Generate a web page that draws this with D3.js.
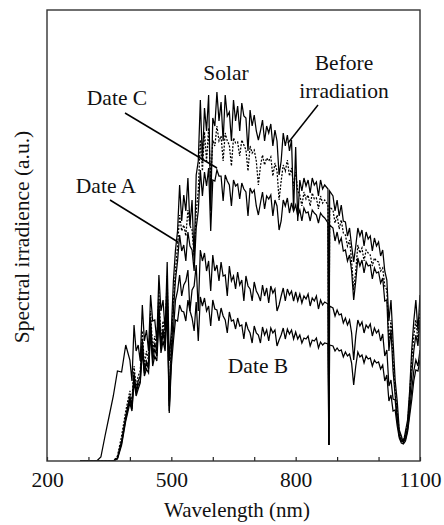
<!DOCTYPE html>
<html>
<head>
<meta charset="utf-8">
<script src="https://cdn.jsdelivr.net/npm/d3@7"></script>
<style>
  body { margin: 0; background: #fff; }
  text { font-family: "Liberation Serif", "Times New Roman", serif; fill: #111; }
</style>
</head>
<body>
<svg id="chart" width="444" height="525"></svg>
<script>
// wavelength grid (nm)
let wavelengths = [280,290,300,310,320,330,340,350,360,370,380,390,400,410,420,430,440,450,460,470,
  480,490,500,510,520,530,540,550,560,570,580,590,600,610,620,630,640,650,660,670,
  680,690,700,710,720,730,740,750,760,770,780,790,800,810,820,830,840,850,860,870,
  878,880,882,890,900,910,920,930,940,950,960,970,980,990,1000,1010,1020,1030,1040,1050,
  1060,1070,1080,1090,1100];

// spectral irradiance (a.u.)
let solar = [0,0,0,0,0,4,25,45,65,90,
  89,116,101,136,116,156,131,166,141,186,
  161,199,131,211,276,266,283,261,286,361,
  353,366,343,369,359,366,349,361,355,358,
  343,351,346,321,341,335,337,331,286,328,
  326,321,314,281,283,281,283,279,281,276,
  272,16,270,
  265,261,256,239,233,199,233,231,229,225,
  223,219,211,181,161,81,31,18,41,111,
  161,166];

let beforeIrr = [0,0,0,0,0,0,0,0,0,5,
  25,50,70,95,85,130,110,150,125,170,
  140,185,120,191,246,236,251,231,249,321,
  329,333,321,335,325,328,316,323,319,321,
  311,315,311,276,306,303,304,298,261,296,
  301,293,289,266,269,266,268,263,265,261,
  256,16,254,
  251,246,241,226,221,171,216,213,211,206,
  203,199,193,171,141,71,29,21,36,101,
  141,151];

let dateC = [0,0,0,0,0,0,0,0,0,3,
  20,45,65,88,80,122,100,142,118,160,
  132,175,110,181,226,216,229,211,233,291,
  289,293,281,291,285,286,276,281,277,278,
  269,273,271,246,269,265,266,261,231,261,
  263,258,256,251,253,249,251,246,248,243,
  238,16,236,
  233,229,223,211,206,161,203,201,199,196,
  193,189,183,161,131,66,25,20,33,86,
  126,141];

let dateA = [0,0,0,0,0,0,0,0,0,3,
  18,42,62,85,76,118,98,135,112,150,
  128,165,105,161,186,176,191,171,196,211,
  208,200,206,196,199,186,195,185,189,181,
  185,172,179,166,176,173,175,172,156,173,
  172,170,169,167,165,167,163,165,161,159,
  157,16,155,
  153,151,147,143,141,101,141,139,136,137,
  133,131,127,111,81,61,26,19,31,71,
  101,111];

let dateB = [0,0,0,0,0,0,0,0,0,2,
  16,40,58,80,72,110,92,128,105,140,
  120,150,95,141,156,149,161,143,159,164,
  163,155,161,151,153,141,149,141,143,136,
  139,128,135,126,134,131,133,131,121,133,
  132,131,129,126,123,125,121,123,119,118,
  117,16,116,
  115,113,111,109,107,76,109,106,105,103,
  101,99,96,86,66,51,23,17,29,61,
  91,101];

// extra in-between readings where the spectra are full of absorption spikes
let fineWavelengths = [405,415,425,435,445,455,465,475,485,495,
  505,515,525,535,545,555,565,575,585,595,
  605,615,625,635,645,655,665,675,685,695,
  705,715,725,735,745,755,765,775,785,795,
  805,815,825,835,845,855,865,
  895,905,915,925,935,945,955,965,975,985,
  995,1005,1015,1025,1035,1045,1055,1065,1075,1085,1095];

let solarFine = [80,110,100,120,110,140,120,150,130,100,
  180,230,240,250,235,200,300,300,330,250,
  335,340,320,345,320,340,330,345,310,335,
  330,330,320,328,315,320,300,315,310,250,
  240,270,275,268,276,265,272,
  250,245,240,225,215,215,225,215,222,210,
  215,205,190,140,120,60,25,30,70,140,130];
let beforeFine = [60,75,90,95,100,110,115,120,125,60,
  160,215,230,225,235,205,270,290,300,280,
  315,320,300,320,295,318,305,316,290,308,
  300,295,296,300,285,290,280,290,285,275,
  270,255,262,255,262,252,258,
  238,232,228,215,200,190,208,200,208,195,
  200,190,175,120,100,50,22,28,65,125,120];
let dateCFine = [55,70,85,90,95,105,110,115,120,55,
  150,200,210,200,215,190,250,265,275,230,
  280,285,260,280,255,275,262,272,245,268,
  255,258,252,262,245,255,240,255,248,250,
  245,240,248,240,248,238,245,
  220,218,210,200,190,180,195,188,195,182,
  188,178,160,110,90,45,20,25,60,110,115];
let dateAFine = [52,68,80,88,92,100,105,112,115,50,
  130,170,165,180,150,175,150,200,190,170,
  190,180,185,165,180,172,176,160,175,160,
  170,160,165,158,168,150,165,160,166,160,
  160,158,162,155,160,152,156,
  145,146,138,136,128,125,135,128,133,125,
  128,120,105,75,62,40,20,22,50,90,95];
let dateBFine = [50,65,78,85,88,95,100,108,110,48,
  120,140,150,140,150,130,120,155,150,135,
  152,140,145,128,140,132,135,122,132,118,
  128,118,126,120,128,115,126,122,127,122,
  122,118,122,115,120,113,116,
  110,110,104,105,98,95,104,98,102,95,
  98,92,80,60,50,35,18,20,45,80,90];

let xTicks = [200,300,400,500,600,700,800,900,1000,1100];
let xTickLabels = [200,500,800,1100];

let svg = d3.select('#chart');

let xScale = d3.scaleLinear()
  .domain([200, 1100])
  .range([47, 420]);

let yScale = d3.scaleLinear()
  .domain([0, 451])
  .range([461, 10]);

svg.append('clipPath').attr('id', 'plot-clip')
  .append('rect')
  .attr('x', xScale(200)).attr('y', yScale(451))
  .attr('width', xScale(1100) - xScale(200))
  .attr('height', yScale(0) - yScale(451));

// merge coarse + fine readings into one sorted list of points
function toPoints(values, fineValues) {
  let pts = wavelengths.map((w, i) => ({ x: w, y: values[i] }));
  fineWavelengths.forEach((w, i) => pts.push({ x: w, y: fineValues[i] }));
  return pts.sort((a, b) => a.x - b.x);
}

let series = [
  { name: 'solar', points: toPoints(solar, solarFine), dash: null },
  { name: 'before', points: toPoints(beforeIrr, beforeFine), dash: '2,1.5' },
  { name: 'dateC', points: toPoints(dateC, dateCFine), dash: null },
  { name: 'dateA', points: toPoints(dateA, dateAFine), dash: null },
  { name: 'dateB', points: toPoints(dateB, dateBFine), dash: null }
];

let lineFn = d3.line()
  .x(d => xScale(d.x))
  .y(d => yScale(d.y));

svg.append('g').attr('clip-path', 'url(#plot-clip)')
  .selectAll('path')
  .data(series)
  .join('path')
  .attr('d', d => lineFn(d.points))
  .attr('fill', 'none')
  .attr('stroke', '#000')
  .attr('stroke-width', 1.25)
  .attr('stroke-dasharray', d => d.dash);

// x axis, ticks pointing inward
let xAxis = d3.axisBottom(xScale)
  .tickValues(xTicks)
  .tickSize(-4)
  .tickPadding(11)
  .tickFormat(d => xTickLabels.includes(d) ? d : '');

let xg = svg.append('g')
  .attr('transform', 'translate(0,' + yScale(0) + ')')
  .call(xAxis);
xg.select('.domain').remove();
xg.selectAll('line').attr('stroke', '#222').attr('stroke-width', 1.2);
xg.selectAll('text')
  .attr('font-family', '"Liberation Serif", "Times New Roman", serif')
  .attr('font-size', 21.5)
  .attr('fill', '#111');

// frame
svg.append('rect')
  .attr('x', xScale(200)).attr('y', yScale(451))
  .attr('width', xScale(1100) - xScale(200))
  .attr('height', yScale(0) - yScale(451))
  .attr('fill', 'none')
  .attr('stroke', '#333')
  .attr('stroke-width', 1.4);

// axis titles
svg.append('text')
  .text('Wavelength (nm)')
  .attr('x', 237).attr('y', 517)
  .attr('text-anchor', 'middle')
  .style('font-size', '21px');

svg.append('text')
  .text('Spectral irradience (a.u.)')
  .attr('text-anchor', 'middle')
  .attr('transform', 'translate(29,237)rotate(-90)')
  .style('font-size', '21.5px');

// labels with leader lines
let labels = [
  { lines: ['Solar'], x: 226, y: 80 },
  { lines: ['Before', 'irradiation'], x: 344, y: 70 },
  { lines: ['Date C'], x: 117, y: 105 },
  { lines: ['Date A'], x: 106, y: 193 },
  { lines: ['Date B'], x: 258, y: 373 }
];
let leaders = [
  [318, 105, 288, 143],
  [125, 113, 217, 168],
  [110, 200, 178, 242]
];

labels.forEach(l => {
  let t = svg.append('text')
    .attr('text-anchor', 'middle')
    .style('font-size', '21.5px');
  l.lines.forEach((s, i) => {
    t.append('tspan').attr('x', l.x).attr('y', l.y + i * 28).text(s);
  });
});

svg.selectAll('line.leader')
  .data(leaders)
  .join('line')
  .classed('leader', true)
  .attr('x1', d => d[0]).attr('y1', d => d[1])
  .attr('x2', d => d[2]).attr('y2', d => d[3])
  .attr('stroke', '#000')
  .attr('stroke-width', 1.5);
</script>
</body>
</html>
